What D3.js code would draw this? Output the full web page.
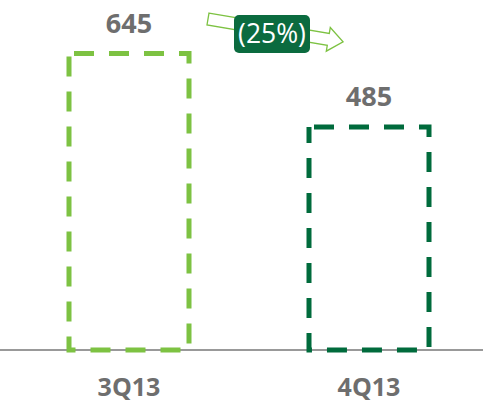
<!DOCTYPE html>
<html><head><meta charset="utf-8">
<script src="https://cdn.jsdelivr.net/npm/d3@7"></script>
<style>html,body{margin:0;padding:0;background:#fff;}</style>
</head><body>
<svg id="chart" width="483" height="403"></svg>
<script>
const categories = ["3Q13", "4Q13"];
const values = [645, 485];
const barColors = ["#7dc242", "#006b3c"];
const changeLabel = "(25%)";

const svg = d3.select("#chart");
const W = 483, H = 403;
const baseY = 350;
const font = "'Open Sans', Lato, sans-serif";

const x = d3.scaleBand().domain(categories).range([9, 489]).paddingInner(0.5).paddingOuter(0.25);
const y = d3.scaleLinear().domain([0, 645]).range([baseY, 53.5]);

// baseline
svg.append("line").attr("x1", 0).attr("x2", W).attr("y1", baseY).attr("y2", baseY)
  .attr("stroke", "#999").attr("stroke-width", 2);

// bars (dashed outlines)
svg.selectAll("rect.bar").data(values).enter().append("rect")
  .attr("class", "bar")
  .attr("x", (d, i) => x(categories[i]))
  .attr("y", d => y(d))
  .attr("width", x.bandwidth())
  .attr("height", d => baseY - y(d))
  .attr("fill", "none")
  .attr("stroke", (d, i) => barColors[i])
  .attr("stroke-width", 5)
  .attr("stroke-dasharray", "20 15")
  .attr("stroke-dashoffset", -5);

// value labels
svg.selectAll("text.val").data(values).enter().append("text")
  .attr("class", "val")
  .attr("x", (d, i) => x(categories[i]) + x.bandwidth() / 2)
  .attr("y", d => y(d) - 21)
  .attr("text-anchor", "middle")
  .attr("font-family", font)
  .attr("font-weight", "bold")
  .attr("font-size", 27)
  .attr("fill", "#6e6e6e")
  .text(d => d);

// category labels
svg.selectAll("text.cat").data(categories).enter().append("text")
  .attr("class", "cat")
  .attr("x", d => x(d) + x.bandwidth() / 2)
  .attr("y", 396)
  .attr("text-anchor", "middle")
  .attr("font-family", font)
  .attr("font-weight", "bold")
  .attr("font-size", 25)
  .attr("fill", "#6e6e6e")
  .text(d => d);

// arrow (outlined block arrow, slightly tilted)
const L = 137, hl = 15, sw = 6, hw = 12;
const arrowPts = [[0, -sw], [L - hl, -sw], [L - hl, -hw], [L, 0], [L - hl, hw], [L - hl, sw], [0, sw]];
svg.append("path")
  .attr("d", d3.line()(arrowPts) + "Z")
  .attr("transform", "translate(208,19) rotate(9.6)")
  .attr("fill", "#fff")
  .attr("stroke", "#7dc242")
  .attr("stroke-width", 1.3);

// change callout
svg.append("rect").attr("x", 234).attr("y", 15).attr("width", 76).attr("height", 38)
  .attr("rx", 5).attr("fill", "#0b6b3f");
svg.append("text").attr("x", 272).attr("y", 43).attr("text-anchor", "middle")
  .attr("font-family", font)
  .attr("font-size", 26.5).attr("fill", "#fff").text(changeLabel);
</script>
</body></html>
